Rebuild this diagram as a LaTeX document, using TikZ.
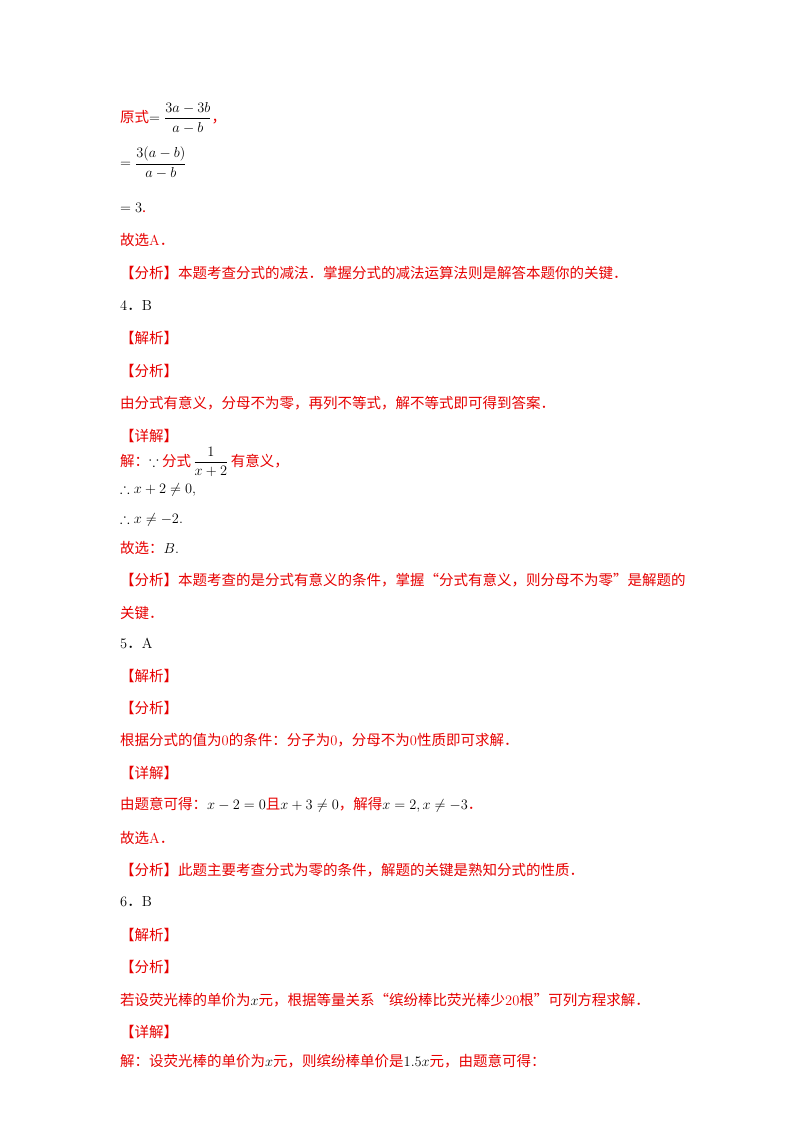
\documentclass[tikz,border=0pt]{standalone}
\usepackage{amsmath,amssymb}
\usepackage{fontspec}
\newfontfamily\cjk{Noto Sans CJK SC}
\definecolor{rd}{RGB}{230,0,0}
\newcommand{\lt}[1]{{\rmfamily #1}}
\begin{document}
\begin{tikzpicture}[x=1pt,y=-1pt,
 t/.style={anchor=west,inner sep=0pt,font=\cjk\fontsize{14.5}{16}\selectfont,text=rd},
 m/.style={anchor=west,inner sep=0pt,font=\cjk\fontsize{14.4}{16}\selectfont,text=black}]
\useasboundingbox (0,0) rectangle (800,1132);
\node[t] (l1) at (120,118) {原式$\color{black}=\dfrac{3a-3b}{a-b}$，};
\node[m] (l2) at (120,163) {$=\dfrac{3(a-b)}{a-b}$};
\node[m] (l3) at (120,208) {$=3$\textcolor{rd}{.}};
\node[t] (l4) at (120,240) {故选\lt{A}．};
\node[t] (l5) at (120,273) {【分析】本题考查分式的减法．掌握分式的减法运算法则是解答本题你的关键．};
\node[t,text=black] (l6) at (120,306) {\lt{4}．\lt{B}};
\node[t] (l7) at (120,338) {【解析】};
\node[t] (l8) at (120,371) {【分析】};
\node[t] (l9) at (120,403) {由分式有意义，分母不为零，再列不等式，解不等式即可得到答案．};
\node[t] (l10) at (120,436) {【详解】};
\node[t] (l11) at (120,462) {解：$\color{black}\because$ 分式\,$\color{black}\dfrac{1}{x+2}$\,有意义，};
\node[m] (l12) at (120,490) {$\therefore x+2\neq 0,$};
\node[m] (l13) at (120,520) {$\therefore x\neq -2.$};
\node[t] (l14) at (120,548) {故选：$\color{black}B.$};
\node[t] (l15) at (120,580) {【分析】本题考查的是分式有意义的条件，掌握“分式有意义，则分母不为零”是解题的};
\node[t] (l16) at (120,613) {关键．};
\node[t,text=black] (l17) at (120,643) {\lt{5}．\lt{A}};
\node[t] (l18) at (120,676) {【解析】};
\node[t] (l19) at (120,708) {【分析】};
\node[t] (l20) at (120,740) {根据分式的值为\lt{0}的条件：分子为\lt{0}，分母不为\lt{0}性质即可求解．};
\node[t] (l21) at (120,773) {【详解】};
\node[t] (l22) at (120,805) {由题意可得：$\color{black}x-2=0$且$\color{black}x+3\neq0$，解得$\color{black}x=2,x\neq-3$．};
\node[t] (l23) at (120,838) {故选\lt{A}．};
\node[t] (l24) at (120,870) {【分析】此题主要考查分式为零的条件，解题的关键是熟知分式的性质．};
\node[t,text=black] (l25) at (120,902) {\lt{6}．\lt{B}};
\node[t] (l26) at (120,935) {【解析】};
\node[t] (l27) at (120,967) {【分析】};
\node[t] (l28) at (120,1000) {若设荧光棒的单价为$\color{black}x$元，根据等量关系“缤纷棒比荧光棒少\lt{20}根”可列方程求解．};
\node[t] (l29) at (120,1032) {【详解】};
\node[t] (l30) at (120,1061) {解：设荧光棒的单价为$\color{black}x$元，则缤纷棒单价是$\color{black}1.5x$元，由题意可得：};
\end{tikzpicture}
\end{document}
